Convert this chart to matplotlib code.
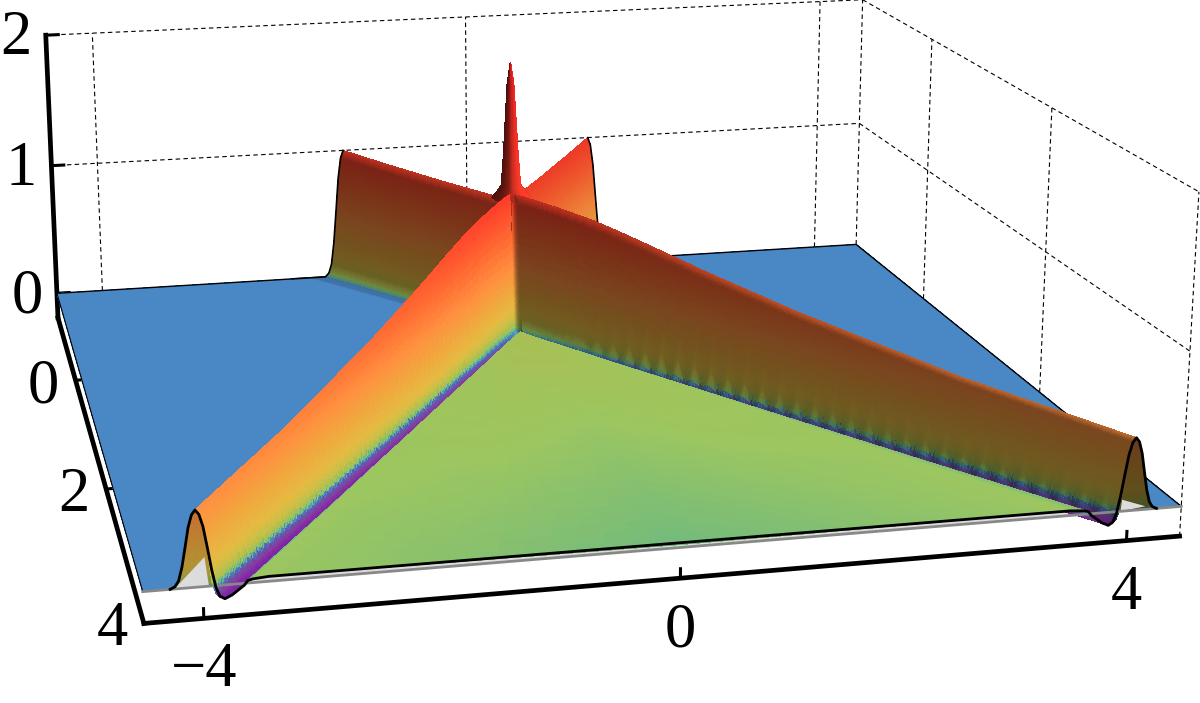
import numpy as np
import matplotlib
matplotlib.use("Agg")
import matplotlib.pyplot as plt
from matplotlib.colors import LinearSegmentedColormap
from matplotlib.tri import Triangulation, UniformTriRefiner, LinearTriInterpolator
from mpl_toolkits.mplot3d import proj3d
from mpl_toolkits.mplot3d.art3d import Poly3DCollection

W, H = 1200, 703

# box limits and camera, fitted to the frame corners of the picture
xlo, xhi = -4.4843, 4.4941
ylo, yhi = -1.3601, 3.9841
zlo, zhi = -0.195, 2.0

x_ticks = [-4, 0, 4]
y_ticks = [0, 2, 4]
z_ticks = [0, 1, 2]
x_labels = ["\u22124", "0", "4"]
y_labels = ["0", "2", "4"]
z_labels = ["0", "1", "2"]

# colour against height
height_levels = [-.09, -.05, -.015, 0, .006, .012, .018, .03, .045, .08, .15, .3, .47, .7, 1, 2]
height_colors = ["#7a1cab", "#8a3a9e", "#5a60b0", "#4a87c5", "#52a8b8", "#62b48e", "#74bb7c", "#9cc660",
                 "#a9bf52", "#c8c048", "#e5bb42", "#f0a83e", "#ff9040", "#ff6a32", "#ff3c2a", "#ee2222"]

# the two front ridges, crest at |x| = crest_slope * y
crest_slope = 1.015
front_y = np.array([0, .05, .1, .2, .35, .6, .8, 1, 1.4, 2, 3, yhi])
front_z = np.array([1, 1, 1, .995, .985, .96, .925, .885, .8, .69, .55, .47])
front_w = np.array([.6, .6, .6, .6, .6, .62, .64, .66, .7, .78, .9, 1])
front_level = np.array([.045, .045, .045, .045, .04, .04, .037, .035, .034, .032, .03, .03])
front_dip = np.array([0, 0, 0, .005, .02, .04, .05, .06, .068, .075, .08, .085])

# the two back ridges
back_y = np.array([ylo, -1, -.5, 0])
back_z = np.array([1, .98, .96, .95])
back_w = np.array([1, .9, .8, .7])

# cross section of a ridge, from the crest towards its near foot
prof_u = np.array([0, .03, .06, .09, .12, .15, .18, .22, .28, .35, .38, .41, .45, .58])
prof_h = np.array([1, .94, .78, .52, .27, .10, .03, 0, 0, 0, 0, 0, 0, 0])
prof_dip = np.array([0, 0, 0, .1, .35, .7, .95, 1, .8, .45, .3, .1, .05, 0])
prof_base = np.array([0, 0, 0, 0, 0, 0, 0, 0, .1, .35, .45, .8, .9, 1])
prof_tooth = np.array([0, 0, 0, .3, 1, 1, .6, 0, 0, 0, 0, 0, 0, 0])
shade_left = np.ones(14)
shade_back = np.full(14, .93)
shade_right = np.array([.75, .48, .48, .48, .48, .5, .7, .78, .85, .85, .85, .95, 1, 1])

# flat part between the front ridges, rim as a fraction of the ridge width
rim_left = .45
rim_right = .56
wedge_y = np.array([.27, .6, 1, 2, 3, yhi])
wedge_frac = np.array([-1, -.5, 0, .5, 1])
wedge_z = np.array([[.045, .045, .045, .045, .045],
                    [.04, .042, .043, .042, .04],
                    [.035, .04, .04, .04, .035],
                    [.032, .033, .03, .033, .032],
                    [.03, .028, .024, .028, .03],
                    [.03, .024, .018, .024, .03]])

# spike where the ridges cross
spike_z = np.array([.98, 1.03, 1.07, 1.31, 1.57, 1.82, 1.97])
spike_r = np.array([.2, .14, .1, .075, .055, .035, .004])
spike_angle = np.radians([-90, -60, -30, 0, 30, 60, 90])
spike_shade = np.array([.3, .35, .5, .85, 1, 1, .9])

# soft crease down the right side of the crossing
fold_y = np.array([.03, .06, .09, .12, .15, .18, .21, .24, .27])
fold_x = np.array([0, .012, .03, .05])
fold_shade = np.array([1, .85, .6, .48])

# grey bits at the two open ends
grey_left_x = [-4.23, -3.98, -3.95]
grey_left_z = [0, .18, 0]
grey_right_x = [3.93, 4.16, 3.94]
grey_right_z = [0, .02, .075]

fig = plt.figure(figsize=(12, 7.03), dpi=100)
ax = fig.add_axes([-118.93/W, -238.28/H, 1322.09/W, 1322.09/H], projection="3d", computed_zorder=False)
ax.view_init(elev=15.406, azim=-103.1117, roll=-.0421)
ax.set_proj_type("persp", focal_length=.4419)
ax.set_box_aspect((1, .9976, .3437))
ax.set_xlim(xlo, xhi)
ax.set_ylim(yhi, ylo)
ax.set_zlim(zlo, zhi)
ax.set_axis_off()
ax.patch.set_alpha(0)

zspan = height_levels[-1]-height_levels[0]
cmap = LinearSegmentedColormap.from_list(
    "height", [((l-height_levels[0])/zspan, c) for l, c in zip(height_levels, height_colors)], N=8192)


def draw_mesh(X, Y, Z, shade=1.0, zorder=1, subdiv=3):
    X, Y, Z = np.asarray(X, float), np.asarray(Y, float), np.asarray(Z, float)
    S = np.broadcast_to(shade, Z.shape).astype(float)
    nr, nc = Z.shape
    jj, ii = np.meshgrid(np.arange(nc, dtype=float), np.arange(nr, dtype=float))
    idx = np.arange(nr*nc).reshape(nr, nc)
    tris = np.vstack([np.c_[idx[:-1, :-1].ravel(), idx[:-1, 1:].ravel(), idx[1:, 1:].ravel()],
                      np.c_[idx[:-1, :-1].ravel(), idx[1:, 1:].ravel(), idx[1:, :-1].ravel()]])
    tri = Triangulation(jj.ravel(), ii.ravel(), tris)
    fine = UniformTriRefiner(tri).refine_triangulation(subdiv=subdiv)
    fx, fy, fz, fs = [np.ma.filled(LinearTriInterpolator(tri, f.ravel())(fine.x, fine.y), 0.0) for f in (X, Y, Z, S)]
    t = fine.triangles
    verts = np.stack([fx[t], fy[t], fz[t]], -1)
    rgba = cmap((fz[t].mean(1)-height_levels[0])/zspan)
    rgba[:, :3] *= fs[t].mean(1)[:, None]
    pc = Poly3DCollection(verts, facecolors=rgba, edgecolors="none", linewidths=0, antialiased=False, zorder=zorder)
    ax.add_collection3d(pc, autolim=False)


def section(u, crest, level, dip):
    return crest*np.interp(u, prof_u, prof_h) + level*np.interp(u, prof_u, prof_base) - dip*np.interp(u, prof_u, prof_dip)


def ridge(y, crest, width, level, dip, s, d, shade, slope=1.0, clip=False, rows=0):
    tooth = 0.0
    if rows:
        # the original surface has a sampling saw along its foot, so use many rows here
        yy = np.r_[y[y < .6], np.linspace(.6, y[-1], rows)]
        crest, width = np.interp(yy, y, crest), np.interp(yy, y, width)
        level, dip = np.interp(yy, y, level), np.interp(yy, y, dip)
        y = yy
        sign = np.where(np.arange(len(y)) % 2 == 0, 1.0, -1.0)
        tooth = (.022*sign*np.interp(y, [.4, 1.2], [0, 1]))[:, None]
    crest_x = s*slope*y
    X = crest_x[:, None] + d*width[:, None]*prof_u
    if clip:
        X = np.minimum(X, 0) if d > 0 else np.maximum(X, 0)
    u = np.abs(X-crest_x[:, None])/width[:, None]
    Z = section(u + tooth*np.interp(u, prof_u, prof_tooth), crest[:, None], level[:, None], dip[:, None])
    Y = np.repeat(y[:, None], len(prof_u), 1)
    return X, Y, Z, np.interp(u, prof_u, shade)


def flat_poly(xs, zs, color, zorder):
    verts = [list(zip(xs, [yhi]*len(xs), zs))]
    ax.add_collection3d(Poly3DCollection(verts, facecolors=color, edgecolors="none", zorder=zorder), autolim=False)


def tick_label(x, y, z, text, dx, dy):
    tx, ty, _ = proj3d.proj_transform(x, y, z, ax.get_proj())
    ax.annotate(text, (tx, ty), xytext=(dx, dy), textcoords="offset pixels", family="Liberation Serif",
                fontsize=45, ha="center", va="center", annotation_clip=False)


# dashed walls
grid_kw = dict(color="k", lw=.8, ls=(0, (4, 3)), zorder=0)
for z in z_ticks[1:]:
    ax.plot([xlo, xhi], [ylo, ylo], [z, z], **grid_kw)
    ax.plot([xhi, xhi], [ylo, yhi], [z, z], **grid_kw)
for x in x_ticks:
    ax.plot([x, x], [ylo, ylo], [0, zhi], **grid_kw)
for y in y_ticks[:2]:
    ax.plot([xhi, xhi], [y, y], [0, zhi], **grid_kw)
ax.plot([xhi, xhi], [ylo, ylo], [0, zhi], **grid_kw)
ax.plot([xhi, xhi], [yhi, yhi], [zlo, zhi], **grid_kw)

# axes
axis_kw = dict(color="k", lw=3.4, solid_capstyle="projecting", zorder=0)
ax.plot([xlo, xlo], [ylo, ylo], [zlo, zhi], **axis_kw)
ax.plot([xlo, xlo], [ylo, yhi], [zlo, zlo], **axis_kw)
ax.plot([xlo, xhi], [yhi, yhi], [zlo, zlo], **axis_kw)
for x, t in zip(x_ticks, x_labels):
    ax.plot([x, x], [yhi, yhi], [zlo, zlo+.06], color="k", lw=2.2, zorder=0)
    tick_label(x, yhi, zlo, t, 0, -53)
for y, t in zip(y_ticks, y_labels):
    if y < yhi:
        ax.plot([xlo, xlo+.13], [y, y], [zlo, zlo], color="k", lw=2.2, zorder=0)
    tick_label(xlo, min(y, yhi), zlo, t, -32, -7)
for z, t in zip(z_ticks, z_labels):
    ax.plot([xlo, xlo+.13], [ylo, ylo], [z, z], color="k", lw=2.2, zorder=0)
    tick_label(xlo, ylo, z, t, -30, -4)

# plane at height zero
draw_mesh([[xlo, xhi], [xlo, xhi]], [[ylo, ylo], [yhi, yhi]], np.zeros((2, 2)), zorder=1, subdiv=0)
ax.plot([xlo, xhi, xhi], [ylo, ylo, yhi], [0, 0, 0], color="k", lw=1.0, zorder=2)
ax.plot([xlo, xlo], [ylo, yhi], [0, 0], color="k", lw=.8, zorder=2)

# back ridges
no_level = np.zeros(len(back_y))
for s, d, sh in [(1, -1, shade_right), (-1, 1, shade_back)]:
    Xb, Yb, Zb, Sb = ridge(back_y, back_z, back_w, no_level, no_level, s, d, sh)
    draw_mesh(Xb, Yb, Zb, Sb, zorder=3)
    ax.plot(Xb[0], Yb[0], Zb[0], color="k", lw=1.2, zorder=4)

# front edge at the largest y
cx_max = crest_slope*yhi
zin = section(prof_u, front_z[-1], front_level[-1], front_dip[-1])
zout = front_z[-1]*prof_h
edge_x = np.r_[-cx_max-prof_u[:8][::-1], -cx_max+prof_u[1:], cx_max-prof_u[::-1], cx_max+prof_u[1:8]]
edge_z = np.r_[zout[:8][::-1], zin[1:], zin[::-1], zout[1:8]]

wall_x = np.r_[-cx_max+prof_u[11:], cx_max-prof_u[11:][::-1], cx_max-prof_u[11], -cx_max+prof_u[11]]
wall_z = np.r_[zin[11:], zin[11:][::-1], 0, 0]
flat_poly(wall_x, wall_z, "#dcdcdc", 6)

# open ends of the front ridges
for cx, sgn, sh, gx, gz in [(-cx_max, 1, .78, grey_left_x, grey_left_z), (cx_max, -1, .42, grey_right_x, grey_right_z)]:
    xc = np.r_[cx-sgn*prof_u[:8][::-1], cx+sgn*prof_u[1:6]]
    zc = front_z[-1]*np.r_[prof_h[:8][::-1], prof_h[1:6]]
    draw_mesh(np.vstack([xc, xc]), np.full((2, len(xc)), yhi), np.vstack([0*zc, zc]), sh, zorder=6)
    flat_poly(gx, gz, "#dcdcdc", 6.5)

# spike goes behind the front ridges, only its top shows
SX = spike_r[:, None]*np.sin(spike_angle)
SY = spike_r[:, None]*np.cos(spike_angle)
SZ = np.repeat(spike_z[:, None], len(spike_angle), 1)
draw_mesh(SX, SY, SZ, np.repeat(spike_shade[None, :], len(spike_z), 0), zorder=6.8)

# front ridges
XL, YL, ZL, SL = ridge(front_y, front_z, front_w, front_level, front_dip, -1, 1, shade_left, crest_slope, clip=True, rows=110)
draw_mesh(XL, YL, ZL, SL, zorder=7, subdiv=2)
XR, YR, ZR, SR = ridge(front_y, front_z, front_w, front_level, front_dip, 1, -1, shade_right, crest_slope, clip=True, rows=60)
draw_mesh(XR, YR, ZR, SR, zorder=7, subdiv=2)

# crease
FX, FY = np.meshgrid(fold_x, fold_y)
fw = np.interp(FY, front_y, front_w)
FU = np.abs(crest_slope*FY-FX)/fw
FZ = section(FU, np.interp(FY, front_y, front_z), np.interp(FY, front_y, front_level), np.interp(FY, front_y, front_dip))
draw_mesh(FX, FY, FZ, np.repeat(fold_shade[None, :], len(fold_y), 0), zorder=7.5)

# the flat part hides the far slope of the trough, so it goes on after the ridges
wedge_w = np.interp(wedge_y, front_y, front_w)
half_left = np.maximum(crest_slope*wedge_y - rim_left*wedge_w, 0)
half_right = np.maximum(crest_slope*wedge_y - rim_right*wedge_w, 0)
WX = np.where(wedge_frac < 0, half_left[:, None]*wedge_frac, half_right[:, None]*wedge_frac)
draw_mesh(WX, np.repeat(wedge_y[:, None], len(wedge_frac), 1), wedge_z, zorder=7.6)

ax.plot([xlo, xhi], [yhi, yhi], [0, 0], color="#888888", lw=2, zorder=9)
ax.plot(edge_x, np.full(len(edge_x), yhi), edge_z, color="k", lw=2, zorder=10)

fig.savefig("out.png", dpi=100)
